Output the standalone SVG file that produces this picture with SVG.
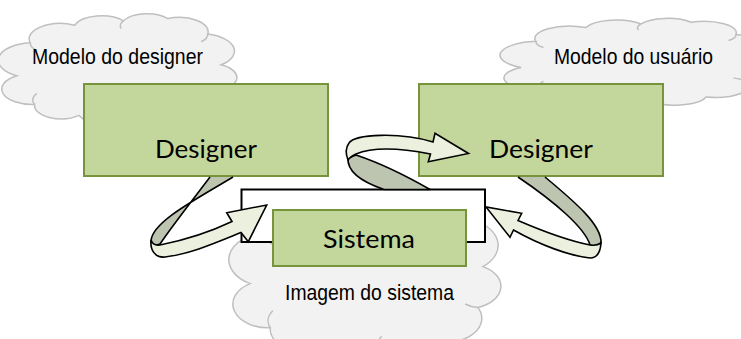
<svg xmlns="http://www.w3.org/2000/svg" xmlns:xlink="http://www.w3.org/1999/xlink" width="741" height="339" viewBox="0 0 741 339">
  <style>
    .cloud { fill: #f2f2f2; stroke: #bfbfbf; stroke-width: 1.5; }
    .cloud-in { fill: none; stroke: #bfbfbf; stroke-width: 1.5; }
    .box { fill: #c3d69b; stroke: #77933c; stroke-width: 2; }
    .frame { fill: #ffffff; stroke: #000000; stroke-width: 2; }
    .back-fill { fill: #bdc4b0; stroke: none; }
    .edge { fill: none; stroke: #000000; stroke-width: 1.6; stroke-linejoin: round; }
    .back { fill: #bdc4b0; stroke: #000000; stroke-width: 1.6; stroke-linejoin: round; }
    .front { fill: #ebf1de; stroke: #000000; stroke-width: 1.6; stroke-linejoin: miter; }
    .lbl { font-family: "Liberation Sans", Arial, sans-serif; font-size: 22px; fill: #000000; }
    .name { font-family: Lato, "Open Sans", sans-serif; font-size: 25px; fill: #000000; }
  </style>
  <defs>
    <!-- unit cloud outline in a 100 x 100 box -->
    <path id="cloudShape" vector-effect="non-scaling-stroke"
          d="M4,58 A16,16 0 0 1 10,28 A14,14 0 0 1 30,12 A13,13 0 0 1 52,8 A12,12 0 0 1 72,6 A13,13 0 0 1 90,20 A16,16 0 0 1 96,48 A13,13 0 0 1 94,72 A14,14 0 0 1 78,92 A13,13 0 0 1 55,96 A13,13 0 0 1 32,94 A12,12 0 0 1 12,84 A14,14 0 0 1 4,58 Z"/>
    <path id="cloudInner" vector-effect="non-scaling-stroke"
          d="M12,84 A10,10 0 0 1 13,74 M10,28 A9,9 0 0 0 13,35 M52,8 A8,8 0 0 0 51,15 M90,20 A9,9 0 0 1 87,27 M94,72 A9,9 0 0 1 89,70 M55,96 A8,8 0 0 1 56,89"/>
  </defs>

  <!-- thought clouds -->
  <g id="cloud-designer">
    <g transform="translate(8,12) scale(2.22,1.10)">
      <use xlink:href="#cloudShape" class="cloud"/>
      <use xlink:href="#cloudInner" class="cloud-in"/>
    </g>
    <text class="lbl" x="32" y="64" textLength="171" lengthAdjust="spacingAndGlyphs">Modelo do designer</text>
  </g>
  <g id="cloud-usuario">
    <g transform="translate(511,17) scale(2.5,0.87)">
      <use xlink:href="#cloudShape" class="cloud"/>
      <use xlink:href="#cloudInner" class="cloud-in"/>
    </g>
    <text class="lbl" x="554" y="64" textLength="159" lengthAdjust="spacingAndGlyphs">Modelo do usuário</text>
  </g>
  <g id="cloud-sistema">
    <g transform="translate(240,185) scale(2.53,1.7)">
      <use xlink:href="#cloudShape" class="cloud"/>
      <use xlink:href="#cloudInner" class="cloud-in"/>
    </g>
    <text class="lbl" x="285" y="300" textLength="169" lengthAdjust="spacingAndGlyphs">Imagem do sistema</text>
  </g>

  <!-- system frame -->
  <g id="frame">
    <rect class="frame" x="241.5" y="189.5" width="243.5" height="52.5"/>
  </g>

  <!-- nodes -->
  <g id="designer">
    <rect class="box" x="84" y="84" width="244" height="92"/>
    <text class="name" x="155" y="158" textLength="102" lengthAdjust="spacingAndGlyphs">Designer</text>
  </g>
  <g id="usuario">
    <rect class="box" x="419" y="84" width="244" height="92"/>
    <text class="name" x="489" y="158" textLength="104" lengthAdjust="spacingAndGlyphs">Designer</text>
  </g>
  <g id="sistema">
    <rect class="box" x="273" y="210" width="193" height="56"/>
    <text class="name" x="323" y="248" textLength="92" lengthAdjust="spacingAndGlyphs">Sistema</text>
  </g>

  <!-- curved ribbon arrows -->
  <g id="connectors">
    <!-- left: designer to system -->
    <path class="back-fill" d="M233,177 C195,200 152,222 151,241 Q152,247 160,244 C175,222 195,197 210,177 Z"/>
    <path class="edge" d="M233,177 C195,200 152,222 151,241 Q152,247 160,244 C175,222 195,197 210,177"/>
    <path class="front" d="M151,240 C150,250 155,258 165,257 C190,254 215,243 241,232.5 L248.3,241.7 L266.7,205 L226.7,212.7 L232,221.5 C210,232 185,240 160,245 Q153,246 151,240 Z"/>
    <!-- middle: system to user -->
    <path class="back" d="M348,158 C347,172 362,182 384,189.5 L430,189.5 C410,178 380,163 356,155 Z"/>
    <path class="front" d="M349,143 C355,134 400,132 433,142 L435,133.3 L468.5,153.5 L428.3,161.7 L430.5,154 C405,149 375,146 356,154 Q350,157 348,160 Q344,150 349,143 Z"/>
    <!-- right: user to system -->
    <path class="back-fill" d="M545,177 C575,202 602,225 601,243 Q598,248 590,245 C585,228 555,202 518,177 Z"/>
    <path class="edge" d="M545,177 C575,202 602,225 601,243 Q598,248 590,245 C585,228 555,202 518,177"/>
    <path class="front" d="M601,243 Q600,258 590,258 C570,256 540,245 513.5,230 L510,237.3 L486,207 L521.7,213.3 L518,220.5 C540,230 565,240 590,245 Q597,246 601,243 Z"/>
  </g>
</svg>
